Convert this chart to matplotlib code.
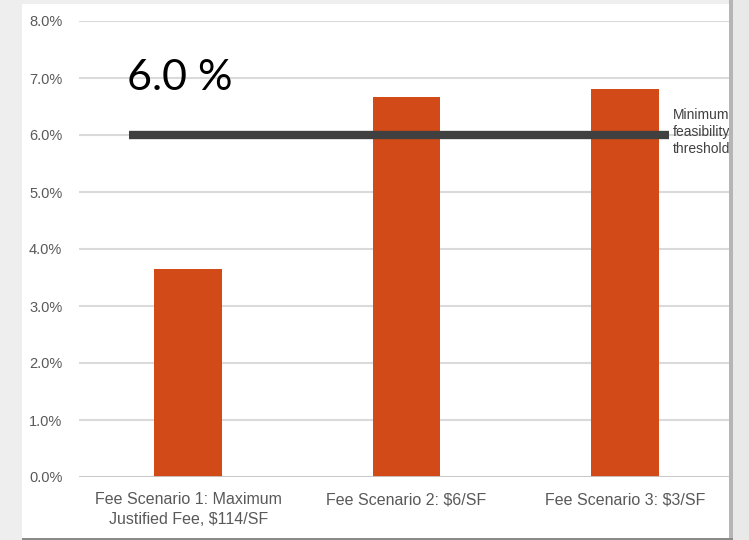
import matplotlib
matplotlib.use("Agg")
import matplotlib.pyplot as plt
from matplotlib.patches import Rectangle
import numpy as np

# data
categories = ["Fee Scenario 1: Maximum\nJustified Fee, $114/SF",
              "Fee Scenario 2: $6/SF",
              "Fee Scenario 3: $3/SF"]
irr = [3.65, 6.66, 6.81]
threshold = 6.0
threshold_label = "Minimum\nfeasibility\nthreshold"
big_label = "6.0 %"
yticks = [0, 1, 2, 3, 4, 5, 6, 7, 8]

W, H = 749, 540
fig = plt.figure(figsize=(W / 100, H / 100), dpi=100)
fig.patch.set_facecolor("#eeeeee")

# white slide panel
fig.add_artist(Rectangle((22 / W, 0), (729 - 22) / W, (H - 4) / H,
                         transform=fig.transFigure, facecolor="white",
                         edgecolor="none", zorder=0))

ax = fig.add_axes([79 / W, 63 / H, (729 - 79) / W, (519 - 63) / H])
ax.patch.set_alpha(0)

x = np.arange(len(categories))
ax.bar(x, irr, width=0.31, color="#d24a17", zorder=3)

ax.set_ylim(0, 8)
ax.set_xlim(-0.5, 2.476)
ax.set_yticks(yticks)
ax.set_yticklabels([f"{v:.1f}%" for v in yticks], fontsize=10.5,
                   color="#595959", family="Liberation Sans")
ax.set_xticks(x)
ax.set_xticklabels(categories, fontsize=11.5, color="#595959",
                   family="Liberation Sans", linespacing=1.4)
ax.tick_params(axis="y", length=0, pad=12)
ax.tick_params(axis="x", length=0, pad=11)
ax.grid(axis="y", color="#dadada", linewidth=1.5, zorder=0)
for s in ax.spines.values():
    s.set_visible(False)
ax.axhline(0, color="#c8c8c8", linewidth=2, zorder=4)

# threshold line
ax.hlines(threshold, x[0] - 0.27, x[-1] + 0.2, color="#404040",
          linewidth=6, zorder=5)
ax.text(x[-1] + 0.22, threshold + 0.05, threshold_label, fontsize=10,
        color="#404040", family="Liberation Sans", va="center", ha="left",
        linespacing=1.25, clip_on=True)

ax.text(x[0] - 0.28, 7.0, big_label, fontsize=31, color="black",
        family="Lato", va="center", ha="left")

# right grey strip with shadow
fig.add_artist(Rectangle((729 / W, 0), 20 / W, 1, transform=fig.transFigure,
                         facecolor="#e9e9e9", edgecolor="none", zorder=10))
fig.add_artist(Rectangle((729 / W, 0), 4 / W, 1, transform=fig.transFigure,
                         facecolor="#b5b5b5", edgecolor="none", zorder=11))
fig.add_artist(Rectangle((22 / W, 0), 711 / W, 2 / H, transform=fig.transFigure,
                         facecolor="#8a8a8a", edgecolor="none", zorder=11))

fig.savefig("out.png", dpi=100)
